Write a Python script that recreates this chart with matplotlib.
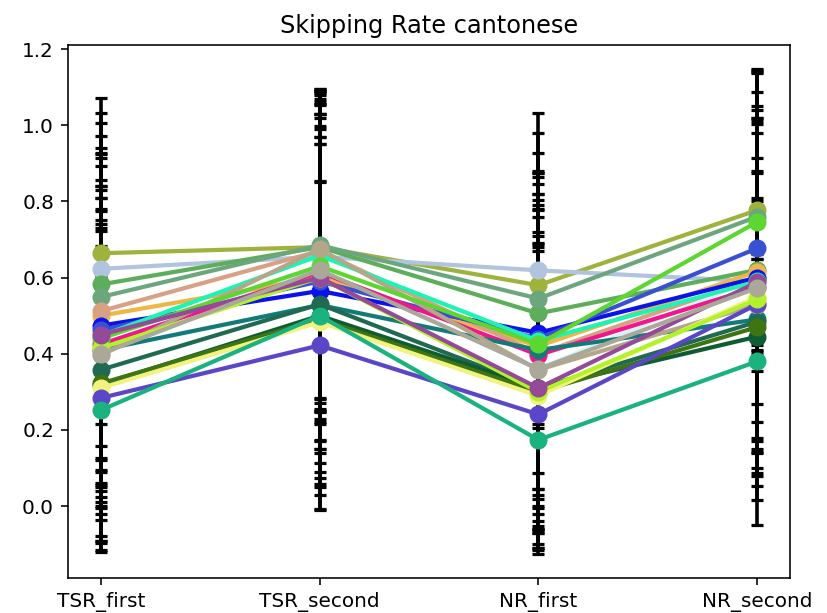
import matplotlib
matplotlib.use("Agg")
import matplotlib.pyplot as plt
import numpy as np

conditions = ["TSR_first", "TSR_second", "NR_first", "NR_second"]

# one row per speaker: mean skipping rate in each condition
means = [
    [0.450, 0.620, 0.360, 0.600],
    [0.664, 0.680, 0.580, 0.777],
    [0.623, 0.655, 0.619, 0.590],
    [0.582, 0.680, 0.506, 0.620],
    [0.549, 0.685, 0.545, 0.760],
    [0.500, 0.600, 0.420, 0.616],
    [0.512, 0.670, 0.400, 0.600],
    [0.474, 0.565, 0.455, 0.600],
    [0.462, 0.590, 0.440, 0.677],
    [0.447, 0.658, 0.434, 0.590],
    [0.425, 0.614, 0.397, 0.575],
    [0.410, 0.528, 0.410, 0.490],
    [0.396, 0.675, 0.358, 0.529],
    [0.358, 0.530, 0.309, 0.484],
    [0.319, 0.500, 0.310, 0.445],
    [0.322, 0.491, 0.300, 0.470],
    [0.310, 0.483, 0.290, 0.550],
    [0.284, 0.422, 0.241, 0.530],
    [0.252, 0.500, 0.174, 0.380],
    [0.440, 0.630, 0.425, 0.746],
    [0.415, 0.600, 0.300, 0.543],
    [0.450, 0.600, 0.310, 0.588],
    [0.400, 0.620, 0.360, 0.573],
]

# standard deviations matching the rows above
errors = [
    [0.330, 0.470, 0.400, 0.420],
    [0.408, 0.400, 0.400, 0.370],
    [0.408, 0.440, 0.414, 0.420],
    [0.423, 0.410, 0.420, 0.400],
    [0.422, 0.400, 0.330, 0.380],
    [0.440, 0.430, 0.400, 0.530],
    [0.416, 0.420, 0.420, 0.450],
    [0.450, 0.490, 0.410, 0.200],
    [0.452, 0.440, 0.440, 0.410],
    [0.447, 0.410, 0.440, 0.450],
    [0.431, 0.440, 0.450, 0.200],
    [0.431, 0.470, 0.380, 0.390],
    [0.433, 0.420, 0.420, 0.450],
    [0.450, 0.440, 0.380, 0.430],
    [0.410, 0.470, 0.370, 0.430],
    [0.400, 0.500, 0.370, 0.080],
    [0.430, 0.370, 0.400, 0.100],
    [0.400, 0.430, 0.366, 0.120],
    [0.350, 0.450, 0.290, 0.430],
    [0.400, 0.400, 0.380, 0.390],
    [0.360, 0.460, 0.410, 0.120],
    [0.360, 0.350, 0.410, 0.100],
    [0.350, 0.400, 0.420, 0.430],
]

colors = [
    "#d4f2f6", "#9fb23c", "#b0c4de", "#5cae5a", "#6ca67e", "#f0b545",
    "#d9a184", "#0b12ec", "#3a50d2", "#1ff2b2", "#f2168c", "#137a7a",
    "#b3a689", "#206a52", "#0f5c34", "#3f7412", "#f2f27e", "#5b45c9",
    "#1ab27f", "#5ed632", "#b3f22a", "#944a98", "#aaa898",
]

fig = plt.figure(figsize=(827 / 144, 613 / 144), dpi=144)
ax = fig.add_axes([68 / 827, 1 - 578 / 613, (790 - 68) / 827, (578 - 45) / 613])

x = np.arange(len(conditions))

for m, e in zip(means, errors):
    ax.errorbar(x, m, yerr=e, fmt="none", ecolor="black", elinewidth=1.8,
                capsize=3, capthick=1.6, zorder=1)

for m, c in zip(means, colors):
    ax.plot(x, m, "-o", color=c, linewidth=2.1, markersize=8, zorder=2)

ax.set_xticks(x)
ax.set_xticklabels(conditions)
ax.set_title("Skipping Rate cantonese")

fig.savefig("out.png", dpi=144)
